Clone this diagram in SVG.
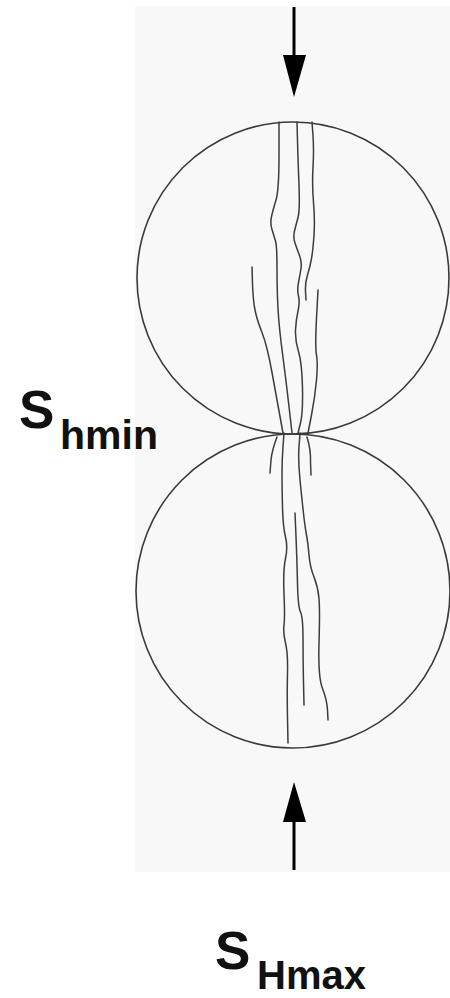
<svg xmlns="http://www.w3.org/2000/svg" width="450" height="998" viewBox="0 0 450 998">
  <style>
    .panel { fill: #f8f8f8; }
    .disc { fill: none; stroke: #3a3a3a; stroke-width: 1.6; }
    .crack { fill: none; stroke: #3c3c3c; stroke-width: 1.5; stroke-linejoin: round; stroke-linecap: round; }
    .load { stroke: #000; stroke-width: 3; }
    .head { fill: #000; }
    .lbl { font-family: "Liberation Sans", Arial, sans-serif; font-weight: bold; fill: #111; }
  </style>

  <rect class="panel" x="135" y="6" width="315" height="866"/>

  <!-- upper disc with vertical fractures -->
  <g id="disc-top">
    <circle class="disc" cx="293" cy="278" r="156"/>
    <path class="crack" d="M279,122 L279,156 Q279,190 276,200 Q273,210 271.5,216.5 Q270,223 272,229.5 Q274,236 275.5,241 Q277,246 277,268 Q277,290 278,308.5 Q279,327 282.5,353.5 Q286,380 289,406.5 L292,433"/>
    <path class="crack" d="M297,122 L297.5,141 Q298,160 299,185 Q300,210 298,217.5 Q296,225 294.5,231 Q293,237 295,243 Q297,249 299.5,255.5 Q302,262 301,268.5 Q300,275 298.5,282.5 Q297,290 298.5,296 Q300,302 298,311 Q296,320 295.5,330 Q295,340 298.5,351.5 Q302,363 302.5,388 Q303,413 300.5,423 L298,433"/>
    <path class="crack" d="M312,122 L313,136 Q314,150 313,167.5 Q312,185 313.5,202.5 Q315,220 314,235 Q313,250 311.5,258.5 Q310,267 307.5,275 Q305,283 305.5,291.5 L306,300"/>
    <path class="crack" d="M318,290 L316.5,318.5 Q315,347 316.5,355 Q318,363 316.5,380 Q315,397 311.5,415 L308,433"/>
    <path class="crack" d="M252,267 L252.5,283.5 Q253,300 255,310 Q257,320 262,332.5 Q267,345 272,372.5 Q277,400 280,416.5 L283,433"/>
  </g>

  <!-- lower disc with vertical fractures -->
  <g id="disc-bottom">
    <circle class="disc" cx="293" cy="591" r="157"/>
    <path class="crack" d="M284,433 L283,446.5 Q282,460 282,473.5 Q282,487 282.5,507 Q283,527 285.5,537 Q288,547 285.5,558.5 Q283,570 284,593.5 Q285,617 284,625 Q283,633 285.5,643 Q288,653 287.5,673 Q287,693 287.5,718 L288,743"/>
    <path class="crack" d="M295,513 L296,536.5 Q297,560 297.5,583.5 Q298,607 300.5,612 Q303,617 303,638.5 Q303,660 303.5,682.5 L304,705"/>
    <path class="crack" d="M300,433 L299,446.5 Q298,460 300,480 Q302,500 303.5,513.5 Q305,527 306.5,535 Q308,543 309,555 Q310,567 314,577 Q318,587 319,598.5 Q320,610 319,643.5 Q318,677 322.5,688.5 Q327,700 327.5,710 L328,720"/>
    <path class="crack" d="M277,437 Q272,450 271,460 L270,473"/>
    <path class="crack" d="M307,437 Q311,450 310.5,462 L311,475"/>
  </g>

  <!-- loading arrows -->
  <g id="connectors">
    <line class="load" x1="294" y1="7" x2="294" y2="60"/>
    <polygon class="head" points="283,55 306,55 294,97"/>
    <line class="load" x1="294" y1="818" x2="294" y2="870"/>
    <polygon class="head" points="283,822 306,822 294,782"/>
  </g>

  <g id="label-shmin">
    <text class="lbl" x="19" y="428" font-size="53">S</text>
    <text class="lbl" x="60" y="449" font-size="41">hmin</text>
  </g>

  <g id="label-shmax">
    <text class="lbl" x="215" y="969" font-size="53">S</text>
    <text class="lbl" x="257" y="989" font-size="40">Hmax</text>
  </g>
</svg>
